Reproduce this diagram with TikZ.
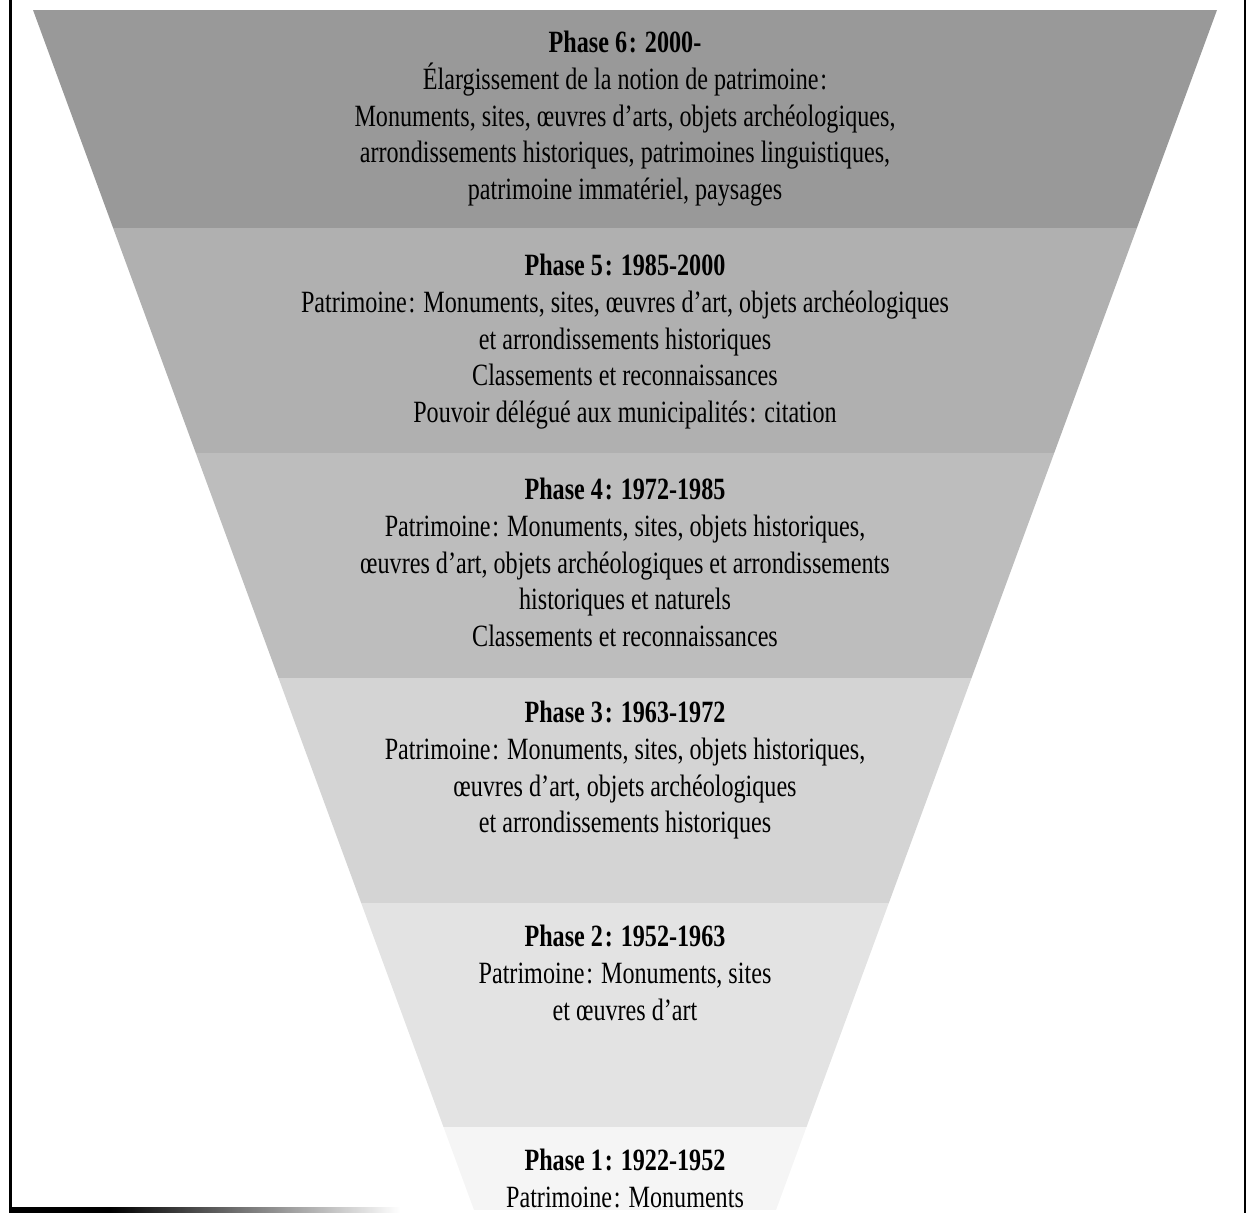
\documentclass[tikz,border=0pt]{standalone}
\usepackage{fontspec}
\setmainfont{Liberation Serif}[FakeStretch=0.78]
\newcommand\deuxpts{\kern.5pt:}

\begin{document}
\begin{tikzpicture}[x=0.01cm,y=-0.01cm,
  phase/.style={align=center,anchor=north,inner sep=0pt,
    font=\fontsize{8.8}{10.5}\selectfont},
  frame/.style={black,line width=#1}]
  \useasboundingbox (0,0) rectangle (1246,1213);
  \coordinate (tl) at (33,10);
  \coordinate (tr) at (1217,10);
  \coordinate (br) at (776,1210);
  \coordinate (bl) at (474,1210);
  \begin{scope}
    \clip (tl) -- (tr) -- (br) -- (bl) -- cycle;
    \foreach \top/\bot/\tone in {10/228/40,228/453/31,453/678/26,
      678/903/17,903/1127/11,1127/1210/4}
      \fill[black!\tone] (0,\top) rectangle (1246,\bot);
  \end{scope}
  % cadre
  \draw[frame=0.85pt] (10.5,0) -- (10.5,1213);
  \draw[frame=0.57pt] (1244.5,0) -- (1244.5,1213);
  \fill[black] (9,1207) rectangle (110,1213);
  \shade[left color=black,right color=white] (110,1207) rectangle (400,1213);
  \node[phase] (p6) at (625,30) {\textbf{Phase 6\deuxpts{} 2000-}\\
    Élargissement de la notion de patrimoine\deuxpts\\
    Monuments, sites, œuvres d’arts, objets archéologiques,\\
    arrondissements historiques, patrimoines linguistiques,\\
    patrimoine immatériel, paysages};
  \node[phase] (p5) at (625,253) {\textbf{Phase 5\deuxpts{} 1985-2000}\\
    Patrimoine\deuxpts{} Monuments, sites, œuvres d’art, objets archéologiques\\
    et arrondissements historiques\\
    Classements et reconnaissances\\
    Pouvoir délégué aux municipalités\deuxpts{} citation};
  \node[phase] (p4) at (625,477) {\textbf{Phase 4\deuxpts{} 1972-1985}\\
    Patrimoine\deuxpts{} Monuments, sites, objets historiques,\\
    œuvres d’art, objets archéologiques et arrondissements\\
    historiques et naturels\\
    Classements et reconnaissances};
  \node[phase] (p3) at (625,700) {\textbf{Phase 3\deuxpts{} 1963-1972}\\
    Patrimoine\deuxpts{} Monuments, sites, objets historiques,\\
    œuvres d’art, objets archéologiques\\
    et arrondissements historiques};
  \node[phase] (p2) at (625,924) {\textbf{Phase 2\deuxpts{} 1952-1963}\\
    Patrimoine\deuxpts{} Monuments, sites\\
    et œuvres d’art};
  \node[phase] (p1) at (625,1148) {\textbf{Phase 1\deuxpts{} 1922-1952}\\
    Patrimoine\deuxpts{} Monuments};
\end{tikzpicture}
\end{document}
